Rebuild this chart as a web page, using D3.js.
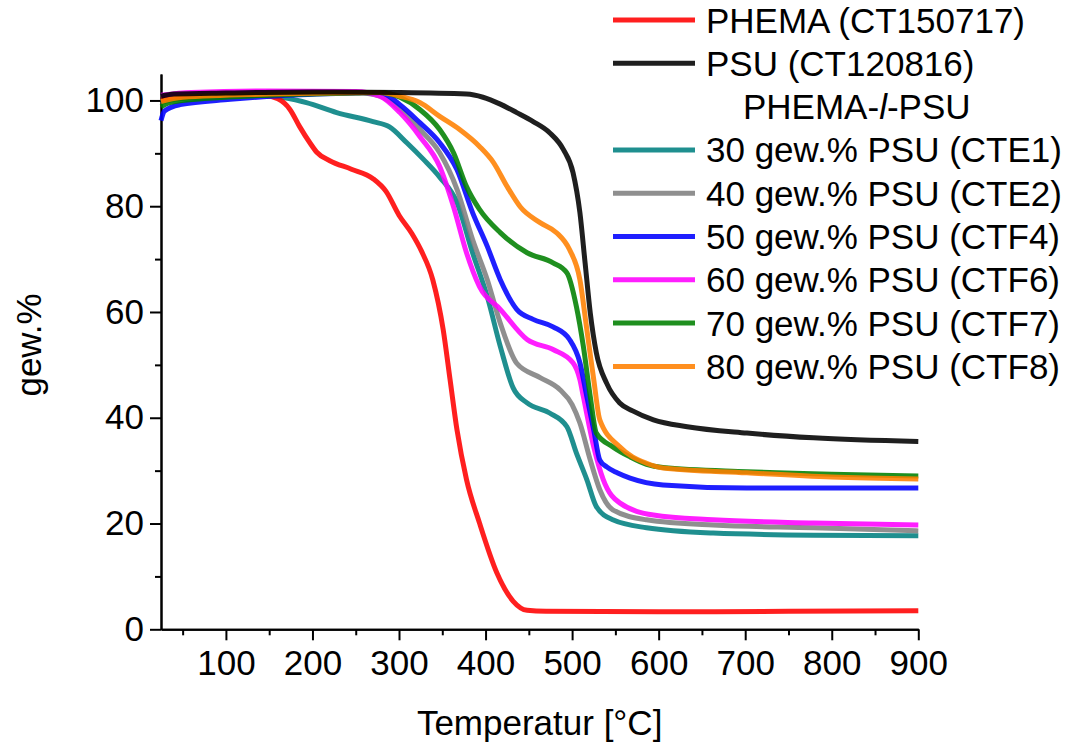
<!DOCTYPE html>
<html>
<head>
<meta charset="utf-8">
<script src="https://cdn.jsdelivr.net/npm/d3@7.9.0/dist/d3.min.js"></script>
<style>
  body { margin: 0; background: #fff; }
  svg { display: block; font-family: "Liberation Sans", Arial, sans-serif; }
  .axis path, .axis line { stroke: #000; stroke-width: 2; }
  .axis text { font-size: 35px; fill: #000; font-family: "Liberation Sans", Arial, sans-serif; }
</style>
</head>
<body>
<div id="chart"></div>
<script>
// TGA curves, [temperature °C, weight %]
const phema = [[25,100.2],[60,100.6],[110,101.0],[145,100.9],[160,100.3],[174,98.3],[185,95.1],[197,92.0],[205,90.2],[220,88.6],[245,87.0],[270,85.2],[285,82.8],[300,78.3],[315,74.8],[326,71.5],[339,66.1],[351,56.7],[359,47.2],[367,37.7],[378,28.3],[393,20.1],[413,10.7],[432,5.3],[448,3.6],[470,3.4],[600,3.3],[750,3.4],[900,3.5]];
const psu = [[25,100.8],[40,101.2],[100,101.4],[200,101.6],[300,101.5],[378,101.2],[397,100.6],[417,99.3],[436,97.7],[455,96.0],[474,93.9],[490,90.7],[501,86.4],[509,78.8],[515,69.3],[521,59.8],[528,52.3],[540,46.5],[555,42.8],[570,41.3],[594,39.6],[633,38.3],[702,37.1],[779,36.2],[900,35.5]];
const cte1 = [[25,99.6],[40,100.2],[100,100.8],[150,101.0],[165,100.6],[193,99.6],[228,97.7],[270,96.0],[289,95.0],[309,92.0],[328,88.9],[347,85.5],[367,80.7],[385,71.2],[402,62.9],[417,53.5],[432,45.6],[448,42.8],[474,40.9],[494,38.3],[505,33.3],[517,28.3],[528,23.2],[547,20.7],[586,19.2],[663,18.2],[779,17.8],[900,17.7]];
const cte2 = [[25,100.5],[60,101.2],[150,101.6],[250,101.5],[278,100.8],[301,98.3],[324,94.5],[347,90.1],[367,83.2],[385,73.7],[402,66.1],[417,57.9],[436,50.3],[463,47.6],[486,45.3],[500,42.5],[509,39.0],[521,32.0],[532,26.4],[547,22.6],[586,20.7],[663,19.7],[779,19.2],[900,18.6]];
const ctf4 = [[25,96.2],[29,98.0],[47,99.2],[105,100.2],[162,100.9],[250,101.4],[278,101.5],[301,99.2],[324,95.8],[347,92.0],[367,86.9],[385,78.8],[402,72.4],[417,66.1],[436,60.5],[455,58.6],[478,57.2],[497,54.8],[509,50.4],[517,44.0],[525,37.7],[532,32.0],[540,30.7],[552,29.6],[567,28.6],[605,27.3],[702,26.7],[900,26.7]];
const ctf6 = [[25,101.0],[60,101.5],[150,101.8],[250,101.7],[278,100.8],[301,97.7],[324,93.2],[347,87.5],[363,79.9],[378,71.2],[393,64.8],[417,60.5],[448,54.8],[478,52.9],[501,50.4],[509,47.2],[513,44.0],[525,34.5],[536,28.3],[555,23.9],[594,21.6],[663,20.7],[779,20.1],[900,19.7]];
const ctf7 = [[25,98.8],[35,99.6],[80,100.4],[150,101.0],[250,101.4],[278,101.5],[301,100.6],[324,98.3],[347,94.5],[363,90.1],[378,83.7],[393,79.4],[417,75.0],[448,71.2],[478,69.3],[494,67.4],[505,61.0],[513,53.5],[521,44.0],[528,37.1],[547,34.5],[567,32.6],[586,31.2],[605,30.6],[702,29.8],[800,29.3],[900,29.0]];
const ctf8 = [[25,99.8],[50,100.6],[150,101.2],[278,101.5],[301,100.8],[324,99.6],[347,97.0],[370,94.5],[393,91.3],[409,88.3],[425,83.7],[440,79.9],[463,76.9],[482,75.0],[497,71.8],[509,66.1],[517,56.7],[525,47.2],[532,39.6],[555,34.5],[586,31.4],[605,30.5],[702,29.6],[800,28.8],[900,28.4]];

const seriesNames = ['PHEMA (CT150717)', 'PSU (CT120816)', '30 gew.% PSU (CTE1)', '40 gew.% PSU (CTE2)', '50 gew.% PSU (CTF4)', '60 gew.% PSU (CTF6)', '70 gew.% PSU (CTF7)', '80 gew.% PSU (CTF8)'];
const seriesColors = ['#ff0000', '#000000', '#008080', '#808080', '#0000ff', '#ff00ff', '#008000', '#ff8000'];
const seriesData = [phema, psu, cte1, cte2, ctf4, ctf6, ctf7, ctf8];
// draw order (first drawn = bottom)
const drawOrder = [2, 3, 0, 5, 4, 6, 7, 1];

const xMajor = [100, 200, 300, 400, 500, 600, 700, 800, 900];
const xMinor = [50, 150, 250, 350, 450, 550, 650, 750, 850];
const yMajor = [0, 20, 40, 60, 80, 100];
const yMinor = [10, 30, 50, 70, 90];

const width = 1072;
const height = 742;
const plot = { left: 161, right: 918.3, top: 74, bottom: 629.3 };

const svg = d3.select('#chart').append('svg').attr('width', width).attr('height', height);

const x = d3.scaleLinear().domain([25, 900]).range([plot.left, plot.right]);
const y = d3.scaleLinear().domain([0, 105]).range([plot.bottom, plot.top]);

// axes
svg.append('g').attr('class', 'axis').attr('transform', `translate(0,${plot.bottom})`)
  .call(d3.axisBottom(x).tickValues(xMinor).tickSize(6).tickFormat('').tickSizeOuter(0));
svg.append('g').attr('class', 'axis').attr('transform', `translate(0,${plot.bottom})`)
  .call(d3.axisBottom(x).tickValues(xMajor).tickSize(11).tickPadding(10).tickSizeOuter(0));
svg.append('g').attr('class', 'axis').attr('transform', `translate(${plot.left},0)`)
  .call(d3.axisLeft(y).tickValues(yMinor).tickSize(6).tickFormat('').tickSizeOuter(0));
svg.append('g').attr('class', 'axis').attr('transform', `translate(${plot.left},0)`)
  .call(d3.axisLeft(y).tickValues(yMajor).tickSize(11).tickPadding(6).tickSizeOuter(0));

// curves
const line = d3.line().x(d => x(d[0])).y(d => y(d[1])).curve(d3.curveMonotoneX);
svg.append('g').selectAll('path').data(drawOrder).join('path')
  .attr('d', i => line(seriesData[i]))
  .attr('fill', 'none')
  .attr('stroke', i => seriesColors[i])
  .attr('stroke-width', 5)
  .attr('stroke-opacity', 0.88)
  .attr('stroke-linejoin', 'round');

// axis titles
svg.append('text').attr('x', (plot.left + plot.right) / 2).attr('y', 735)
  .attr('text-anchor', 'middle').attr('font-size', 35).text('Temperatur [°C]');
svg.append('text').attr('transform', 'translate(41,345) rotate(-90)')
  .attr('text-anchor', 'middle').attr('font-size', 35).text('gew.%');

// legend
const legendRows = [0, 1, 3, 4, 5, 6, 7, 8];
const rowY = r => 20 + r * 43.3;
const legend = svg.append('g');
legend.selectAll('line').data(seriesNames).join('line')
  .attr('x1', 613).attr('x2', 695)
  .attr('y1', (d, i) => rowY(legendRows[i])).attr('y2', (d, i) => rowY(legendRows[i]))
  .attr('stroke', (d, i) => seriesColors[i]).attr('stroke-width', 5).attr('stroke-opacity', 0.88);
legend.selectAll('text.lbl').data(seriesNames).join('text').attr('class', 'lbl')
  .attr('x', 706).attr('y', (d, i) => rowY(legendRows[i]) + 12.5)
  .attr('font-size', 35).text(d => d);
const header = legend.append('text').attr('x', 743).attr('y', rowY(2) + 12.5).attr('font-size', 35);
header.append('tspan').text('PHEMA-');
header.append('tspan').attr('font-style', 'italic').text('l');
header.append('tspan').text('-PSU');
</script>
</body>
</html>
